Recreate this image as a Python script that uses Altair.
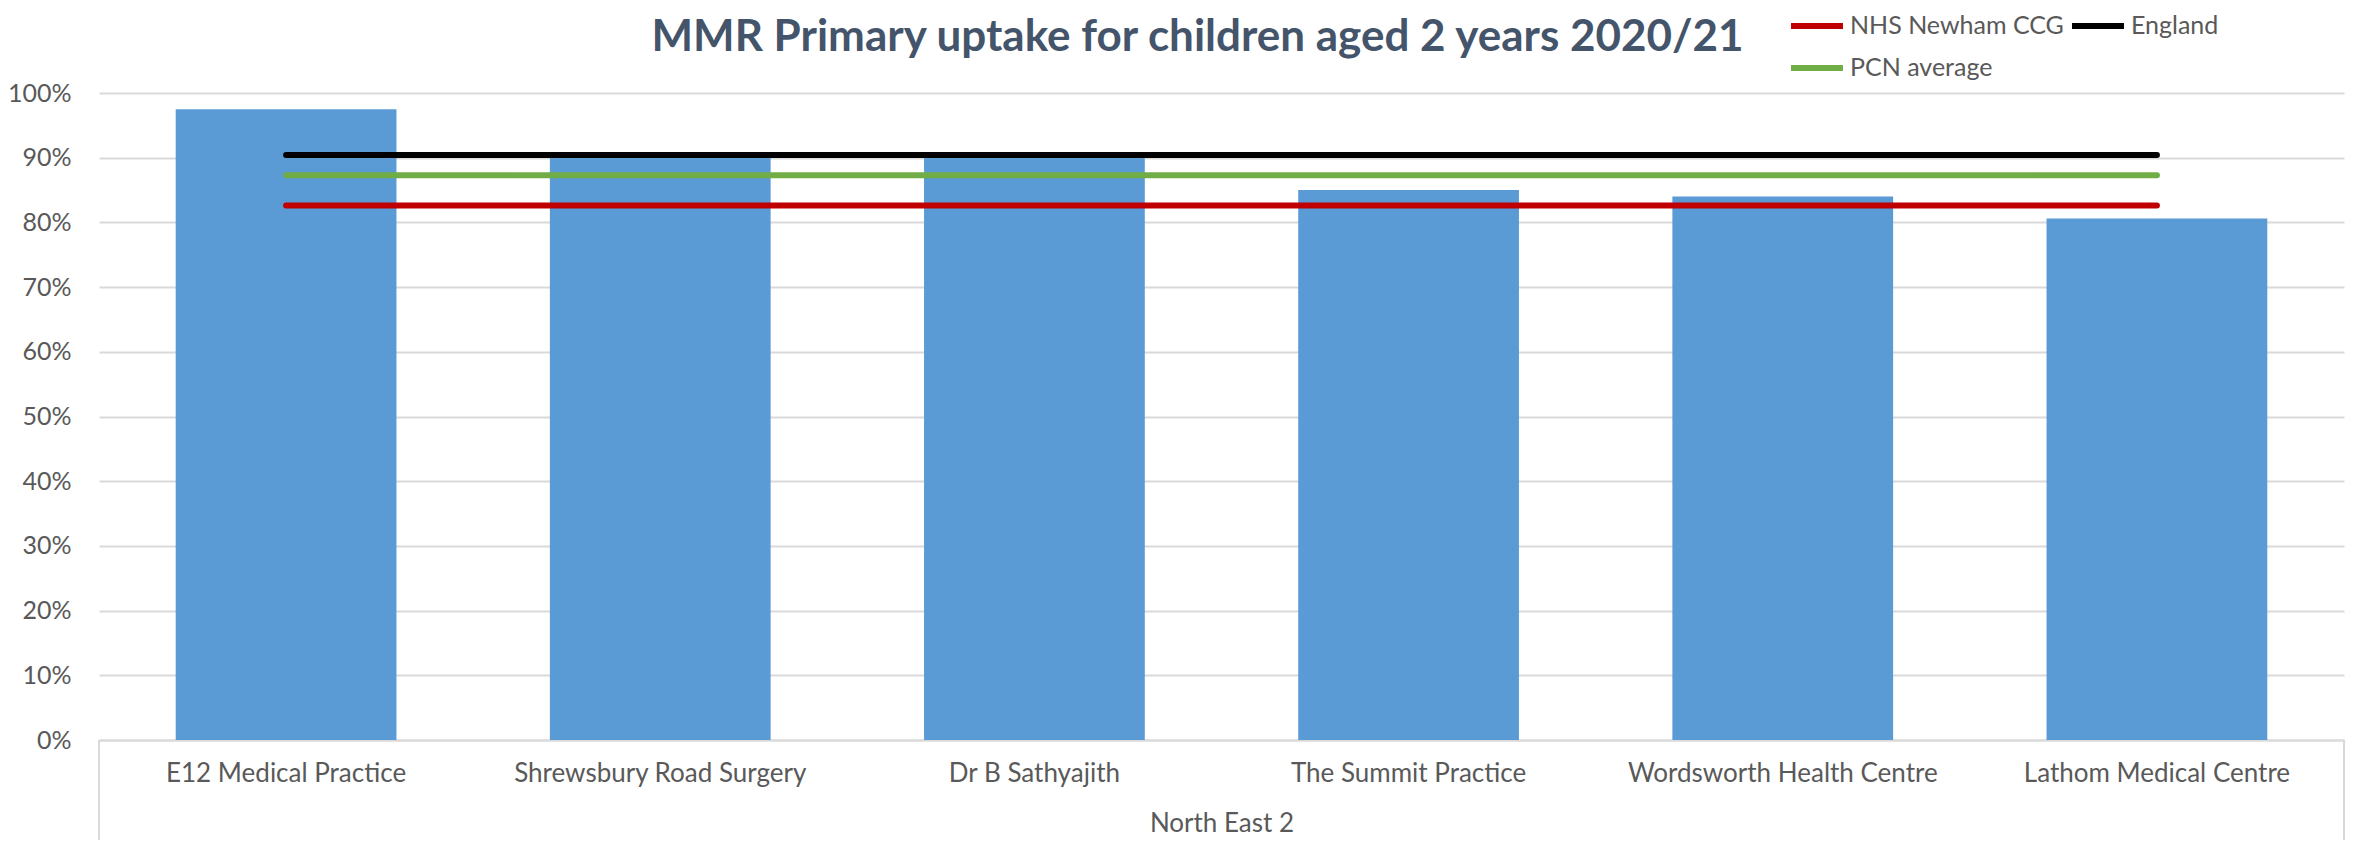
import altair as alt
import pandas as pd

# ---- data ----
practices = [
    "E12 Medical Practice",
    "Shrewsbury Road Surgery",
    "Dr B Sathyajith",
    "The Summit Practice",
    "Wordsworth Health Centre",
    "Lathom Medical Centre",
]
uptake = [0.975, 0.902, 0.902, 0.850, 0.840, 0.806]

series_names = ["NHS Newham CCG", "England", "PCN average"]
series_values = [0.826, 0.904, 0.873]
series_colors = ["#C00000", "#000000", "#70AD47"]

y_ticks = [0, 0.1, 0.2, 0.3, 0.4, 0.5, 0.6, 0.7, 0.8, 0.9, 1.0]
group_label = "North East 2"
title_text = "MMR Primary uptake for children aged 2 years 2020/21"

# ---- layout ----
W, H = 2245, 647
FONT = "Lato"
GRAY = "#595959"
GRID = "#D9D9D9"

bars_df = pd.DataFrame({"practice": practices, "uptake": uptake})
lines_df = pd.DataFrame(
    [
        {"practice": p, "series": s, "value": v}
        for s, v in zip(series_names, series_values)
        for p in practices
    ]
)

xscale = alt.Scale(domain=practices, paddingInner=0.41, paddingOuter=0.205)
yscale = alt.Scale(domain=[0, 1], nice=False)

bars = alt.Chart(bars_df).mark_bar(color="#5B9BD5").encode(
    x=alt.X(
        "practice:N",
        scale=xscale,
        sort=practices,
        axis=alt.Axis(
            title=group_label,
            labelAngle=0,
            labelFont=FONT,
            labelFontSize=26,
            labelColor=GRAY,
            labelPadding=20,
            labelLimit=0,
            ticks=False,
            domainColor=GRID,
            domainWidth=2,
            titleFont=FONT,
            titleFontSize=26,
            titleFontWeight="normal",
            titleColor=GRAY,
            titlePadding=24,
        ),
    ),
    y=alt.Y(
        "uptake:Q",
        scale=yscale,
        axis=alt.Axis(
            values=y_ticks,
            format=".0%",
            title=None,
            labelFont=FONT,
            labelFontSize=25,
            labelColor=GRAY,
            labelPadding=28,
            ticks=False,
            domain=False,
            gridColor=GRID,
            gridWidth=2,
        ),
    ),
)

lines = alt.Chart(lines_df).mark_line(strokeWidth=6, strokeCap="round").encode(
    x=alt.X("practice:N", scale=xscale, sort=practices),
    y=alt.Y("value:Q", scale=yscale),
    color=alt.Color(
        "series:N",
        scale=alt.Scale(domain=series_names, range=series_colors),
        legend=alt.Legend(
            title=None,
            orient="none",
            legendX=1689,
            legendY=-96,
            direction="horizontal",
            columns=2,
            columnPadding=-4,
            rowPadding=-13,
            symbolType="stroke",
            symbolSize=2700,
            symbolStrokeWidth=6,
            labelFont=FONT,
            labelFontSize=25,
            labelColor=GRAY,
            labelOffset=4,
            labelLimit=0,
        ),
    ),
)

title_mark = alt.Chart(pd.DataFrame({"t": [title_text]})).mark_text(
    font=FONT, fontSize=44, fontWeight="bold", color="#44546A",
    align="center", baseline="middle",
).encode(x=alt.value(W / 2 - 24), y=alt.value(-55), text="t:N")

left_edge = alt.Chart(pd.DataFrame({"e": [0]})).mark_rule(color=GRID, strokeWidth=2).encode(
    x=alt.value(0), y=alt.value(H), y2=alt.value(H + 100)
)
right_edge = alt.Chart(pd.DataFrame({"e": [0]})).mark_rule(color=GRID, strokeWidth=2).encode(
    x=alt.value(W), y=alt.value(H), y2=alt.value(H + 100)
)

chart = (
    alt.layer(bars, lines, title_mark, left_edge, right_edge)
    .properties(
        width=W,
        height=H,
        padding={"left": 91, "top": 85, "right": 4, "bottom": 100},
        autosize=alt.AutoSizeParams(type="none"),
    )
    .configure_view(stroke=None)
)

chart.save("out.html", embed_options={"renderer": "svg", "actions": False})
